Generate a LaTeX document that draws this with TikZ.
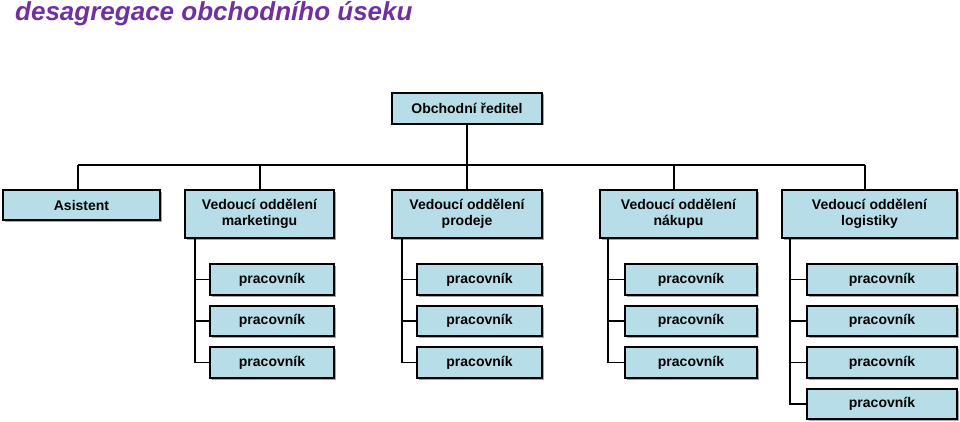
\documentclass[tikz,border=0pt]{standalone}
\usepackage{fontspec}
\setmainfont{Liberation Sans}
\usetikzlibrary{shadows}
\definecolor{boxfill}{HTML}{B7DEE8}
\definecolor{ttl}{HTML}{7030A0}
\begin{document}
\begin{tikzpicture}[x=1pt,y=-1pt,
  bx/.style={draw=black,line width=1.6pt,fill=boxfill,inner sep=0pt,align=center,font=\bfseries\fontsize{14}{16}\selectfont,
    drop shadow={shadow xshift=1.5pt,shadow yshift=-1.5pt,fill=gray!70,opacity=1}},
  ln/.style={line width=1.3pt}]
\useasboundingbox (0,0) rectangle (960,422);
\node[anchor=north west,text=ttl,font=\bfseries\itshape\fontsize{26}{30}\selectfont,inner sep=0pt] (title) at (15,1) {desagregace obchodního úseku};
\newcommand\mybox[6]{\node[bx,minimum width=#3-#2,minimum height=#5-#4] (#1) at ({(#2+#3)/2},{(#4+#5)/2}) {#6};}
\mybox{top}{392}{542}{93}{124}{Obchodní ředitel}
\mybox{as}{3}{160}{190}{220}{Asistent}
\mybox{m}{185}{334}{190}{238}{Vedoucí oddělení\\marketingu}
\mybox{p}{392}{542}{190}{238}{Vedoucí oddělení\\prodeje}
\mybox{n}{600}{757}{190}{238}{Vedoucí oddělení\\nákupu}
\mybox{l}{782}{957}{190}{238}{Vedoucí oddělení\\logistiky}
\foreach \c/\a/\b in {m/210/334,p/417/542,n/625/757,l/807/957}{
  \mybox{\c1}{\a}{\b}{264}{295}{pracovník}
  \mybox{\c2}{\a}{\b}{306}{336}{pracovník}
  \mybox{\c3}{\a}{\b}{347}{378}{pracovník}
}
\mybox{l4}{807}{957}{389}{419}{pracovník}
\coordinate (bl) at (78,165); \coordinate (br) at (865,165);
\draw[ln] (top.south) -- (top.south |- bl);
\draw[ln] (bl) -- (br);
\draw[ln] (bl) -- (as.north -| bl);
\draw[ln] (260,165) -- (m.north -| 260,0);
\draw[ln] (p.north |- bl) -- (p.north);
\draw[ln] (674,165) -- (n.north -| 674,0);
\draw[ln] (br) -- (l.north -| br);
\foreach \c/\x in {m/195,p/402,n/608}{
  \draw[ln] (\c.south -| \x,0) -- (\c3.west -| \x,0) -- (\c3.west);
  \draw[ln] (\c1.west -| \x,0) -- (\c1.west);
  \draw[ln] (\c2.west -| \x,0) -- (\c2.west);
}
\draw[ln] (l.south -| 790,0) -- (l4.west -| 790,0) -- (l4.west);
\foreach \i in {1,2,3}{\draw[ln] (l\i.west -| 790,0) -- (l\i.west);}
\end{tikzpicture}
\end{document}
